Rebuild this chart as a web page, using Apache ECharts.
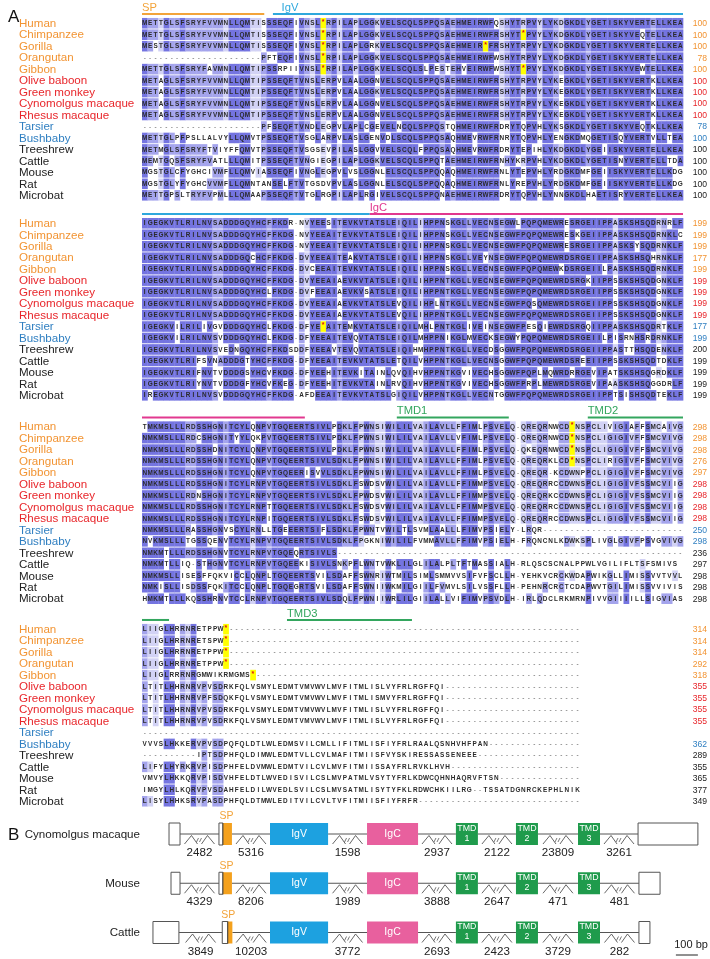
<!DOCTYPE html>
<html><head><meta charset="utf-8">
<script src="https://cdn.jsdelivr.net/npm/echarts@6/dist/echarts.min.js"></script>
<style>html,body{margin:0;padding:0;background:#fff}#c{width:710px;height:959px}</style>
</head><body><div id="c"></div>
<script>
// ---------------- DATA ----------------
const species = ['Human','Chimpanzee','Gorilla','Orangutan','Gibbon','Olive baboon','Green monkey','Cynomolgus macaque','Rhesus macaque','Tarsier','Bushbaby','Treeshrew','Cattle','Mouse','Rat','Microbat'];
const speciesGroup = [0,0,0,0,0,1,1,1,1,2,2,3,3,3,3,3];

const block1 = [
'METTGLSFSRYFVVMNLLQMTISSSEQFIVNSL*RPILAPLGGKVELSCQLSPPQSAEHMEIRWFQSHYTRPVYLYKDGKDLYGETISKYVERTELLKEA',
'METTGLSFSRYFVVMNLLQMTISSSEQFIVNSL*RPILAPLGGKVELSCQLSPPQSAEHMEIRWFRSHYT*PVYLYKDGKDLYGETISKYVEQTELLKEA',
'MESTGLSFSRYFVVMNLLQMTISSSEQFIVNSL*RPILAPLGRKVELSCQLSPPQSAEHMEIR*FRSHYTRPVYLYKDGKDLYGETISKYVERTELLKEA',
'----------------------PFTEQFIVNSL*RPILAPLGGKVELSCQLSPPQSAEHMEIRWFWSHYTRPVYLYKDGKDLYGETISKYVERTELLKEA',
'METTGLSFSRYFAVMNLLQMTIPSSRPIIVNSL*RPILAPLGGKVELSCQLSLPESTEHVEIRWFWSHYT*PVYLYKDGKDLYGETISKYVEWTELLKEA',
'METAGLSFSRYFVVMNLLQMTIPSSEQFTVNSLERPVLAALGGNVELSCQLSPPQSAEHMEIRWFRSHYTRPVYLYKEGKDLYGETISKYVERTKLLKEA',
'METAGLSFSRYFVVMNLLQMTIPSSEQFTVNSLERPVLAALGGKVELSCQLSPPQSAEHMEIRWFRSHYTRPVYLYKEGKDLYGETISKYVERTKLLKEA',
'METAGLSFSRYFVVMNLLQMTIPSSEQFTVNSLERPVLAALGGNVELSCQLSPPQSAEHMEIRWFRSHYTRPVYLYKEGKDLYGETISKYVERTKLLKEA',
'METAGLSFSRYFVVMNLLQMTIPSSEQFTVNSLERPVLAALGGNVELSCQLSPPQSAEHMEIRWFRSHYTRPVYLYKEGKDLYGETISKYVERTKLLKEA',
'----------------------PFSEQFTVNDLEGPVLAPLCGEVELNCQLSPPQSTQHMEIRWFRDRYTQPVHLYKSGKDLYGETISKYVEQTKLLKEA',
'METTGLPFPSLLALVYLLQMVTPSSEQFTVSGLARPVLASLGENVDLSCQLSPPQSAQHMEVRWFRNRYTQPVHLYENGKDMQGETISQYVERTVLLTEA',
'METMGLSFSRYFTVIYFFQMVTPSSEQFTVSGSEVPILASLGGVVELSCQLFPPQSAQHMEVRWFRDRYTEPIHLYKDGKDLYGEIISKYVERTELLKEA',
'MEMTGQSFSRYFVATLLLQMITPSSEQFTVNGIEGPILAPLGGKVELSCQLSPPQTAEHMEIRWFRNHYKRPVHLYKDGKDLYGETISNYVERTELLTDA',
'MGSTGLCFYGHCIVMFLLQMVIASSEQFIVNGLEGPVLVSLGGNLELSCQLSPPQQAQHMEIRWFRNLYTEPVHLYRDGKDMFGEIISKYVERTELLKDG',
'MGSTGLYFYGHCVVMFLLQMNTANSELFTVTGSDVPVLASLGGNLELSCQLSPPQQAQHMEIRWFRNLYREPVHLYRDGKDMFGEIISKYVERTELLKDG',
'METTGPSLTRYFVPMLLLQMAAPSSEQFTVTGLRGPILAPLRGIVELSCQLSPPQNAEHMEIRWFRDRYTQPVHLYNNGKDLHAETISRYVERTELLKEA'
];
const block2 = [
'IGEGKVTLRILNVSADDDGQYHCFFKDR-NVYEESITEVKVTATSLEIQILIHPPNSKGLLVECNSEGWLPQPQMEWRESRGEIIPPASKSHSQDRNRLF',
'IGEGKVTLRILNVSADDDGQYHCFFKDG-NVYEEAITEVKVTATSLEIQILIHPPNSKGLLVECNSEGWFPQPQMEWRESKGEIIPPASKSHSQDRNKLC',
'IGEGKVTLRILNVSADDDGQYHCFFKDG-NVYEEAITEVKVTATSLEIQILIHPPNSKGLLVECNSEGWFPQPQMEWRESRGEIIPPASKSYSQDRNKLF',
'IGEGKVTLRILNVSADDDGQCHCFFKDG-DVYEEAITEAKVTATSLEIQILIHPPNSKGLLVEYNSEGWFPQPQMEWRDSRGEIIPPASKSHSQHRNKLF',
'IGEGKVTLRILNVSADDDGQYHCFFKDG-DVCEEAITEVKVTATSLEIQILIHPPNSKGLLVECNSEGWFPQPQMEWKDSRGEIILPASKSHSQDRNKLF',
'IGEGKVTLRILNVSADDDGQYHCFFKDG-DVYEEAIAEVKVTATSLEIQILIHPPNTKGLLVECNSEGWFPQPQMEWRDSRGKIIPPSSKSHSQDGNKLF',
'IGEGKVTLRILNVSADDDGQYHCLFKDG-DVFEEAIAEVKVSATSLEIQILIHPPNTKGLLVECNSEGWFPQPQMEWRDSRGEIIPPSSKSHSQDGNKLF',
'IGEGKVTLRILNVSADDDGQYHCFFKDG-DVYEEAIAEVKVTATSLEVQILIHPLNTKGLLVECNSEGWFPQSQMEWRDSRGEIIPPSSKSHSQDGNKLF',
'IGEGKVTLRILNVSADDDGQYHCFFKDG-DVYEEAIAEVKVTATSLEVQILIHPPNTKGLLVECNSEGWFPQPQMEWRDSRGEIIPPSSKSHSQDGNKLF',
'IGEGKVILRILIVGVDDDGQYHCLFKDG-DFYE*AITEMKVTATSLEIQILMHLPNTKGLIVEINSEGWFPESQIEWRDSRGQIIPPASKSHSQDRTKLF',
'IGEGKVILRILNVSVDDDGQYHCLFKDG-DFYEEAITEVQVTATSLEIQILMHPPNIKGLMVECKSEGWYPQPQMEWRDSRGEIILPISRNHSRDRNKLF',
'IGEGKVTLRILNVSVEDNGQYHCFFKDSDDFYEEAVTEVQVTATSLEIQIHMHPPNTKGLLVECDSGGWFPQPQMEWRDSRGEIIPPASTTHSQDENKLF',
'IGEGKVTLRIFSVNADDDGTYHCFFKDG-DFYEEAITEVKVTATSLETQILVHPPNTKGLLVECNSGGWFPQPQMEWRDSREEIIPPSSKSHSQDTDKLF',
'IGEGKVTLRIFNVTVDDDGSYHCVFKDG-DFYEEHITEVKITAINLQVQIHVHPPNTKGVIVECHSGGWFPQPLMQWRDRRGEVIPATSKSHSQGRDKLF',
'IGEGKVTLRIYNVTVDDDGFYHCVFKEG-DFYEEHITEVKVTAINLRVQIHVHPPNTKGVIVECHSGGWFPRPLMEWRDSRGEVIPAASKSHSQGGDRLF',
'IREGKVTLRILNVSVDDDGQYHCFFKDG-AFDEEAITEVKVTATSLGIQILVHPPNTKGLLVECNTGGWFPQPQMEWRDSRGEIIPPTSISHSQDTEKLF'
];
const block3 = [
'TMKMSLLLRDSSHGNITCYLQNPVTGQEERTSIVLPDKLFPWNSIWILILVAILAVLLFFIMLPSVELQ-QREQRNWCD*NSPCLIVIGIAFFSMCAIVG',
'NMKMSLLLRDCSHGNITYYLQKPVTGQEERTSIVLPDKLFPWNSIWILILVAILAVLLVFIMLPSVELQ-QREQRNWCD*NSPCLIGIGIVFFSMCVIVG',
'NMKMSLLLRDSSHDNITCYLQNPVTGQEERTSIVLPDKLFPWNSIWILILVAILAVLLFFIMLPSVELQ-QKEQRNWCD*NSPCLIGIGIVFFSMCVIVG',
'NMKMSLLLRDSSHGNITCYLQNPVTGQEERTSIVLSDKLFPWNSIWILILVAILAVLLFFIMLPSVELQ-QREQRKLCD*NSPCLIRIGIVFFSMCVIVG',
'NMKMSLLLRDSSHGNITCYLQNPVTGQEERISVVLSDKLFPWNSIWILILVAILAVLLFFIMLPSVELQ-QREQR-KCDWNPPCLIGIGIVFFSMCVIVG',
'NMKMSLLLRDSSHGNITCYLRNPVTGQEERTSIVLSDKLFSWDSVWILILVAILAVLLFFIMMPSVELQ-QREQRRCCDWNSPCLIGIGIVFSSMCVIIG',
'NMKMSLLLRDNSHGNITCYLRNPVTGQEERTSIVLSDKLFPWDSVWILILVAILAVLLFFIMMPSVELQ-QREQRKCCDWNSPCLIGIGIVFSSMCVIIG',
'NMKMSLLLRDSSHGNITCYLRNPTTGQEERTSIVLSDKLFSWDSVWILILVAILAVLLFFIMMPSVELQ-QREQRRCCDWNSPCLIGIGIVFSSMCVIIG',
'NMKMSLLLRDSSHGNITCYLRNPITGQEERTSIVLSDKLFSWDSVWILILVAILAVLLFFIMMPSVELQ-QREQRRCCDWNSPCLIGIGIVFSSMCVIIG',
'NMKMSLLLRASSHGNVSCYLRNLLTGEEERTSIFLSDKLFPWNTVWILTLSVMLAALLLFIMVPSIELY-LRQR--------------------------',
'NVKMSLLLTGSSQENVTCYLRNPVTGQEERTSIVLSDKLFPGKNIWILILFVMMAVLLFFIMVPSIELH-FRQNCNLKDWKSPLIVGLGIVFPSVGVIVG',
'NMKMTLLLRDSSHGNVTCYLRNPVTGQEQRTSIVLS----------------------------------------------------------------',
'NMKMTLLIQ-STHGNVTCYLRNPVTGQEEKISIVLSNKPFLWNTVWKLILGLILALPLTFTMASSIALH-RLQSCSCNALPPWLVGILIFLTSFSMIVS',
'NMKMSLLISESFFQKVICCLQNPLTGQEERTSVILSDAFFSWNRIWTMILSIMLSMMVVSIFVFSCLLH-YEHKVCRCKWDAPWIKGLLIMISSVVTVVL',
'NMKISLLISDSSFQKITCCLQNPLTGQEGRTSVILSDAFFSWNIIWKMILGIILFVMVLSILVSSFLLH-PEHNRCRCTCDAPWVTGILIMISSVVIVIS',
'HMKMTLLLKQSSHRNVTCCLRNPVTGQEERTSIVLSDQLFPWNIIWRLILGIILALLVIFIMVPSVDLH-IRLQDCLRKMRNPIVVGIIIILLSIGVIAS'
];
const block4 = [
'LIIGLHRRNRETPPW*-----------------------------------------------------------------',
'LIIGLHRRNRETSPW*-----------------------------------------------------------------',
'LIIGLHRRNRETPPW*-----------------------------------------------------------------',
'LIIGLHRRNRETPPW*-----------------------------------------------------------------',
'LIIGLRRRNRGMWIKRMGMS*------------------------------------------------------------',
'LTITLHHRNRVPVSDRKFQLVSMYLEDMTVMVWVLMVFITMLISLVYFRLRGFFQI-------------------------',
'LTITLHHRNRVPFSDQKFQLVSMYLEDMTVMVWVLMVFITMLISMVYFRLRGFFQI-------------------------',
'LTITLHHRNRVPVSDRKFQLVSMYLEDMTVMVWVLMVFITMLISLVYFRLRGFFQI-------------------------',
'LTITLHHRNRVPVSDRKFQLVSMYLEDMTVMVWVLMVFITMLISLVYFRLRGFFQI-------------------------',
'---------------------------------------------------------------------------------',
'VVVSLHKKERVPVSDPQFQLDTLWLEDMSVILCMLLIFITMLISFIYFRLRAALQSNHVHFPAN-----------------',
'----------IPTSDPHFQLDIMWLEDMTVLLCVLMAFITMIISFVYSKIRESSASSENEEE-------------------',
'LIFYLHYRKRVPISDPHFELDVMWLEDMTVILCVLMVFITMIISSAYFRLRVKLHVH------------------------',
'VMVYLHKKQRVPISDVHFELDTLWVEDISVILCSLMVPATMLVSYTYFRLKDWCQHNHAQRVFTSN---------------',
'IMGYLHLKQRVPVSDAHFELDILWVEDLSVILCSLMVSATMLISYTYFKLRDWCHKIILRG--TSSATDGNRCKEPHLNIK',
'LISYLHHKSRVPASDPHFQLDTMWLEDITVILCVLTVFITMIISFIYFRFR------------------------------'
];
const ends1 = [100,100,100,78,100,100,100,100,100,78,100,100,100,100,100,100];
const ends2 = [199,199,199,177,199,199,199,199,199,177,199,200,199,199,199,199];
const ends3 = [298,298,298,276,297,298,298,298,298,250,298,236,297,298,298,298];
const ends4 = [314,314,314,292,318,355,355,355,355,null,362,289,355,365,377,349];

// domain annotation bars (alignment column units within each block)
const featName  = ['SP','IgV','IgV','IgC','IgC','TMD1','TMD2','TMD2','TMD3'];
const featBlock = [0,0,1,1,2,2,2,3,3];
const featFrom  = [0,24.2,0,42.1,0,47.1,82.4,0,26.8];
const featTo    = [22.6,100,42.1,100,30.1,67.8,100,5.0,49.9];
const featLabelAt = [0,25.8,null,42.1,null,47.1,82.4,null,26.8];

// Part B gene structures (bp, relative to IgV exon start)
const geneNames = ['Cynomolgus macaque','Mouse','Cattle'];
const utr5 = [[-459,-409],[-450,-409],[-532,-414]];
const spWhite = [[-232,-214],[-232,-214],[-217,-192]];
const spOrange = [[-214,-173],[-214,-173],[-192,-171]];
const igvExon = [0,264];
const igcExon = [441,673];
const tmdExons = [[845,945],[1118,1218],[1400,1500]];
const utr3 = [[1673,1945],[1677,1773],[1677,1727]];
const intronLen = [
  [2482,5316,1598,2937,2122,23809,3261],
  [4329,8206,1989,3888,2647,471,481],
  [3849,10203,3772,2693,2423,3729,282]
];

// ---------------- STYLE ----------------
const FONT = '"Liberation Sans", Arial, Helvetica, sans-serif';
const groupColor = ['#f29433','#e8262b','#2f7fc1','#222222'];
const featColor = {SP:'#f3a43a', IgV:'#2ea8dd', IgC:'#e2388f', TMD1:'#33a65e', TMD2:'#33a65e', TMD3:'#33a65e'};
const shadeCol = ['#7474e0','#a4a4ec','#d2d2f5'];
const blocks = [block1, block2, block3, block4];
const ends = [ends1, ends2, ends3, ends4];
const blockStart = [0, 17.44, 35.17, 52.83];
const shadeLimit = [100, 100, 100, 16];

// percentage-identity shading (Jalview style) derived from the sequences
function computeShades(block, limit) {
  const n = block.length, L = block[0].length;
  const out = block.map(() => new Array(L).fill(null));
  for (let c = 0; c < L; c++) {
    const cnt = {};
    block.forEach(s => { const ch = s[c]; if (ch && /[A-Z]/.test(ch)) cnt[ch] = (cnt[ch] || 0) + 1; });
    let best = null, bc = 0;
    Object.keys(cnt).forEach(k => { if (cnt[k] > bc) { bc = cnt[k]; best = k; } });
    const pct = bc / n * 100;
    block.forEach((s, r) => {
      if (s[c] === '*') { out[r][c] = '#ffff00'; return; }
      if (c >= limit || s[c] !== best) return;
      if (pct > 80) out[r][c] = shadeCol[0];
      else if (pct > 60) out[r][c] = shadeCol[1];
      else if (pct > 40) out[r][c] = shadeCol[2];
    });
  }
  return out;
}
const shades = blocks.map((b, i) => computeShades(b, shadeLimit[i]));

const rowData = [];
blocks.forEach((b, bi) => b.forEach((s, r) => rowData.push([bi, r])));

function txt(x, y, text, fill, font, align) {
  return {type:'text', x:x, y:y, style:{text:text, fill:fill, font:font,
    align:align || 'center', verticalAlign:'middle', textAlign:align || 'center', textVerticalAlign:'middle'}};
}

function renderRow(params, api) {
  const b = api.value(0), r = api.value(1);
  const seq = blocks[b][r];
  const yv = blockStart[b] + r + 0.5;
  const p0 = api.coord([0, yv]);
  const cw = api.size([1, 0])[0];
  const rh = api.size([0, 1])[1];
  const ch = [];
  for (let c = 0; c < seq.length; c++) {
    const f = shades[b][r][c];
    if (f) ch.push({type:'rect', shape:{x:p0[0] + c*cw, y:p0[1] - rh/2 + 0.4, width:cw + 0.35, height:rh - 0.9}, style:{fill:f}});
  }
  for (let c = 0; c < seq.length; c++) {
    const a = seq[c];
    const star = a === '*';
    ch.push(txt(p0[0] + (c + 0.5)*cw, p0[1] + (star ? -1.5 : 0.3), a,
      star ? '#e01010' : (a === '-' ? '#555' : '#2a2a2a'),
      (a === '-' ? 'normal ' : 'bold ') + (star ? '7px ' : '6.4px ') + FONT));
  }
  const gc = groupColor[speciesGroup[r]];
  const pn = api.coord([-22.75, yv]);
  ch.push(txt(pn[0], pn[1] + 0.5, species[r], gc, '11.6px ' + FONT, 'left'));
  const e = ends[b][r];
  if (e !== null) {
    const pe = api.coord([104.45, yv]);
    ch.push(txt(pe[0], pe[1] + 0.5, String(e), gc, '8.6px ' + FONT, 'right'));
  }
  return {type:'group', children:ch};
}

function renderFeat(params, api) {
  const i = api.value(0);
  const yv = blockStart[featBlock[i]] - 0.31;
  const a = api.coord([featFrom[i], yv]), b = api.coord([featTo[i], yv]);
  const col = featColor[featName[i]];
  const ch = [{type:'line', shape:{x1:a[0], y1:a[1], x2:b[0], y2:b[1]}, style:{stroke:col, lineWidth:2}}];
  if (featLabelAt[i] !== null) {
    const t = api.coord([featLabelAt[i], yv]);
    ch.push(txt(t[0], t[1] - 6.5, featName[i], col, '11.2px ' + FONT, 'left'));
  }
  return {type:'group', children:ch};
}

function renderGene(params, api) {
  const g = api.value(0);
  const ch = [];
  const H = 22;
  const X = v => api.coord([v, g])[0];
  const cy = api.coord([0, g])[1];
  const box = (s, e, fill, stroke) => ch.push({type:'rect', shape:{x:X(s), y:cy - H/2, width:X(e) - X(s), height:H},
      style:{fill:fill, stroke:stroke || null, lineWidth:1}});
  const exons = [utr5[g], [spWhite[g][0], spOrange[g][1]], igvExon, igcExon, tmdExons[0], tmdExons[1], tmdExons[2], utr3[g]];
  for (let k = 0; k < exons.length - 1; k++) {
    const x1 = X(exons[k][1]), x2 = X(exons[k+1][0]);
    const mx = (x1 + x2) / 2;
    ch.push({type:'line', shape:{x1:x1, y1:cy, x2:x2, y2:cy}, style:{stroke:'#555', lineWidth:1}});
    ch.push({type:'polyline', shape:{points:[[mx-15,cy+10],[mx-8,cy+1.5],[mx-2,cy+10]]}, style:{stroke:'#555', fill:null, lineWidth:0.9}});
    ch.push({type:'polyline', shape:{points:[[mx+2,cy+10],[mx+8,cy+1.5],[mx+15,cy+10]]}, style:{stroke:'#555', fill:null, lineWidth:0.9}});
    ch.push({type:'line', shape:{x1:mx-3, y1:cy+8, x2:mx-1, y2:cy+4}, style:{stroke:'#555', lineWidth:0.8}});
    ch.push({type:'line', shape:{x1:mx+0, y1:cy+8, x2:mx+2, y2:cy+4}, style:{stroke:'#555', lineWidth:0.8}});
    ch.push(txt(mx, cy + 19, String(intronLen[g][k]), '#222', '11.6px ' + FONT));
  }
  box(utr5[g][0], utr5[g][1], '#fff', '#555');
  box(spWhite[g][0], spWhite[g][1], '#fff', '#555');
  box(spOrange[g][0], spOrange[g][1], '#f4a11d', null);
  ch.push({type:'line', shape:{x1:X(spOrange[g][0]), y1:cy-H/2, x2:X(spOrange[g][0]), y2:cy+H/2}, style:{stroke:'#444', lineWidth:1}});
  ch.push(txt((X(spWhite[g][0]) + X(spOrange[g][1]))/2 + 1, cy - 17.5, 'SP', '#f3a43a', '10.5px ' + FONT));
  box(igvExon[0], igvExon[1], '#1da1e0', null);
  ch.push(txt((X(igvExon[0]) + X(igvExon[1]))/2, cy, 'IgV', '#fff', '10.5px ' + FONT));
  box(igcExon[0], igcExon[1], '#e8609e', null);
  ch.push(txt((X(igcExon[0]) + X(igcExon[1]))/2, cy, 'IgC', '#fff', '10.5px ' + FONT));
  tmdExons.forEach((t, k) => {
    box(t[0], t[1], '#1f9b4c', null);
    const mx = (X(t[0]) + X(t[1]))/2;
    ch.push(txt(mx, cy - 5.5, 'TMD', '#fff', '8.8px ' + FONT));
    ch.push(txt(mx, cy + 4.5, String(k + 1), '#fff', '8.8px ' + FONT));
  });
  box(utr3[g][0], utr3[g][1], '#fff', '#555');
  ch.push(txt(140, cy + 0.5, geneNames[g], '#222', '11.6px ' + FONT, 'right'));
  return {type:'group', children:ch};
}

function renderScale(params, api) {
  const p1 = api.coord([1845, 2]), p2 = api.coord([1945, 2]);
  return {type:'group', children:[
    {type:'line', shape:{x1:p1[0], y1:p1[1]+22.5, x2:p2[0], y2:p2[1]+22.5}, style:{stroke:'#222', lineWidth:1}},
    txt(p2[0] + 10, p1[1] + 12.5, '100 bp', '#222', '11px ' + FONT, 'right')
  ]};
}

const chart = echarts.init(document.getElementById('c'), null, {renderer:'canvas', width:710, height:959});
chart.setOption({
  animation:false,
  backgroundColor:'#fff',
  title:[
    {text:'A', left:3, top:4, textStyle:{fontFamily:FONT, fontSize:17, fontWeight:'normal', color:'#111'}},
    {text:'B', left:3, top:822, textStyle:{fontFamily:FONT, fontSize:17, fontWeight:'normal', color:'#111'}}
  ],
  grid:[
    {left:142, right:27, top:17.56, height:70*11.47},
    {left:0, right:0, top:834, bottom:26.5}
  ],
  xAxis:[
    {gridIndex:0, type:'value', min:0, max:100, show:false},
    {gridIndex:1, type:'value', min:-270/0.22, max:440/0.22, show:false}
  ],
  yAxis:[
    {gridIndex:0, type:'value', min:0, max:70, inverse:true, show:false},
    {gridIndex:1, type:'value', min:0, max:2, inverse:true, show:false}
  ],
  series:[
    {type:'custom', xAxisIndex:0, yAxisIndex:0, data:rowData, renderItem:renderRow, clip:false, silent:true},
    {type:'custom', xAxisIndex:0, yAxisIndex:0, data:featName.map((n, i) => [i, 0]), renderItem:renderFeat, clip:false, silent:true},
    {type:'custom', xAxisIndex:1, yAxisIndex:1, data:[[0, 0],[1, 1],[2, 2]], renderItem:renderGene, clip:false, silent:true},
    {type:'custom', xAxisIndex:1, yAxisIndex:1, data:[[0, 2]], renderItem:renderScale, clip:false, silent:true}
  ]
});
</script></body></html>
